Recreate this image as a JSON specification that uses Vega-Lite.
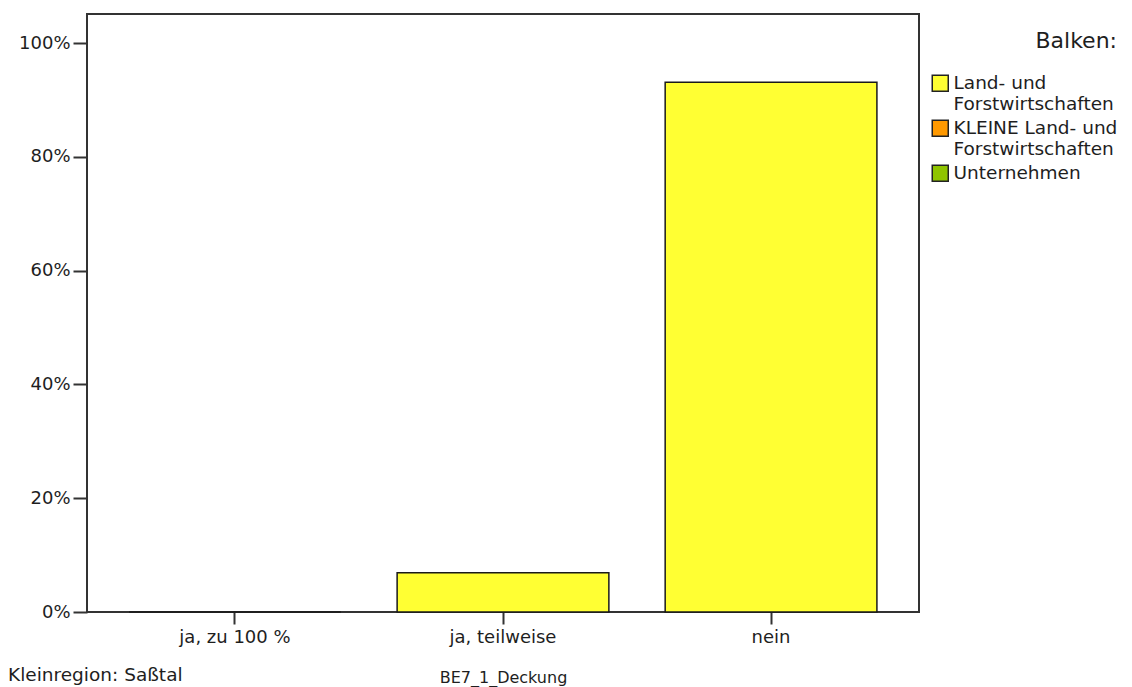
{
  "$schema": "https://vega.github.io/schema/vega-lite/v6.json",
  "width": 832,
  "height": 598,
  "autosize": "none",
  "padding": {"left": 87, "top": 14, "right": 213, "bottom": 75},
  "background": "white",
  "config": {
    "font": "DejaVu Sans",
    "view": {"stroke": "#333333", "strokeWidth": 2},
    "axis": {"domain": false, "grid": false, "tickColor": "#333333", "tickWidth": 2, "labelColor": "#1e1e1e", "labelFontSize": 18, "labelFont": "DejaVu Sans"}
  },
  "title": {
    "text": "Kleinregion: Saßtal",
    "orient": "bottom",
    "anchor": "start",
    "frame": "group",
    "dx": -79,
    "offset": -19,
    "fontSize": 18.5,
    "fontWeight": "normal",
    "font": "DejaVu Sans",
    "color": "#1e1e1e"
  },
  "data": {
    "values": [
      {"BE7_1_Deckung": "ja, zu 100 %", "Balken": "Land- und Forstwirtschaften", "Anteil": 0},
      {"BE7_1_Deckung": "ja, teilweise", "Balken": "Land- und Forstwirtschaften", "Anteil": 0.069},
      {"BE7_1_Deckung": "nein", "Balken": "Land- und Forstwirtschaften", "Anteil": 0.931}
    ]
  },
  "mark": {"type": "bar", "stroke": "#1a1a1a", "strokeWidth": 1.5},
  "encoding": {
    "x": {
      "field": "BE7_1_Deckung",
      "type": "nominal",
      "sort": ["ja, zu 100 %", "ja, teilweise", "nein"],
      "scale": {"paddingInner": 0.21, "paddingOuter": 0.157},
      "axis": {"labelAngle": 0, "tickSize": 12, "labelPadding": 4, "title": "BE7_1_Deckung", "titleFontSize": 16, "titleFontWeight": "normal", "titleColor": "#1e1e1e", "titlePadding": 23}
    },
    "y": {
      "field": "Anteil",
      "type": "quantitative",
      "scale": {"domain": [0, 1.051], "nice": false},
      "axis": {"values": [0, 0.2, 0.4, 0.6, 0.8, 1.0], "format": ".0%", "tickSize": 14, "labelPadding": 3, "title": null}
    },
    "color": {
      "field": "Balken",
      "type": "nominal",
      "scale": {
        "domain": ["Land- und Forstwirtschaften", "KLEINE Land- und Forstwirtschaften", "Unternehmen"],
        "range": ["#ffff33", "#ff9900", "#8fc400"]
      },
      "legend": {
        "title": "Balken:",
        "orient": "none",
        "legendX": 844,
        "legendY": 17,
        "titleFontSize": 22,
        "titleFontWeight": "normal",
        "titleColor": "#1e1e1e",
        "titleAnchor": "end",
        "titlePadding": 21,
        "symbolType": "square",
        "symbolSize": 256,
        "symbolStrokeColor": "#222222",
        "symbolStrokeWidth": 1.5,
        "labelFontSize": 18.5,
        "labelColor": "#1e1e1e",
        "labelLimit": 400,
        "labelOffset": 4,
        "rowPadding": 3,
        "labelExpr": "split(replace(datum.label, 'und ', 'und|'), '|')"
      }
    }
  }
}
